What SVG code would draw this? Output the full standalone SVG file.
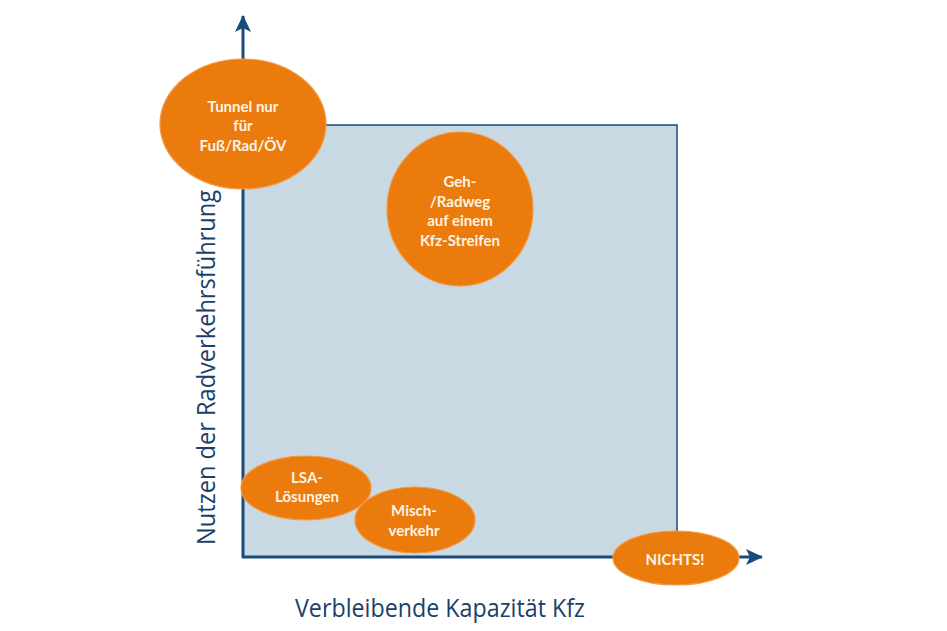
<svg xmlns="http://www.w3.org/2000/svg" width="947" height="631" viewBox="0 0 947 631">
<style>
.axis{stroke:#1a4a7a;stroke-width:3;fill:none}
.ell{fill:#ea7b0c;stroke:#f39a45;stroke-width:1.2}
.lbl{font-family:Lato,"Open Sans","Liberation Sans",sans-serif;font-weight:bold;font-size:15px;fill:#fff4e6;text-anchor:middle}
.ax{font-family:"Open Sans","Liberation Sans",sans-serif;font-size:26px;fill:#1b3f6b}
</style>
<defs>
<marker id="arr" markerUnits="userSpaceOnUse" markerWidth="20" markerHeight="20" viewBox="0 0 20 20" refX="16" refY="10" orient="auto">
<path d="M0,2 L17,10 L0,18 L4,10 Z" fill="#1a4a7a"/>
</marker>
</defs>
<rect width="947" height="631" fill="#ffffff"/>
<g id="plane">
<rect x="243" y="125" width="434" height="432" fill="#c9d9e4" stroke="#1a4a7a" stroke-width="1.5"/>
</g>
<g id="connectors">
<line class="axis" x1="243" y1="558" x2="243" y2="16" marker-end="url(#arr)"/>
<line class="axis" x1="242" y1="557" x2="762" y2="557" marker-end="url(#arr)"/>
</g>
<g id="tunnel">
<ellipse class="ell" cx="243" cy="124" rx="83" ry="65"/>
<text class="lbl" x="243" y="112">Tunnel nur</text>
<text class="lbl" x="243" y="131">für</text>
<text class="lbl" x="243" y="151">Fuß/Rad/ÖV</text>
</g>
<g id="gehradweg">
<ellipse class="ell" cx="460" cy="209" rx="73" ry="77"/>
<text class="lbl" x="460" y="187">Geh-</text>
<text class="lbl" x="460" y="207">/Radweg</text>
<text class="lbl" x="460" y="226">auf einem</text>
<text class="lbl" x="460" y="246">Kfz-Streifen</text>
</g>
<g id="lsa">
<ellipse class="ell" cx="306" cy="488" rx="65" ry="32"/>
<text class="lbl" x="307" y="483">LSA-</text>
<text class="lbl" x="307" y="502">Lösungen</text>
</g>
<g id="mischverkehr">
<ellipse class="ell" cx="415" cy="520" rx="60" ry="33"/>
<text class="lbl" x="414" y="516">Misch-</text>
<text class="lbl" x="414" y="536">verkehr</text>
</g>
<g id="nichts">
<ellipse class="ell" cx="676" cy="558" rx="63" ry="27"/>
<text class="lbl" x="675" y="565">NICHTS!</text>
</g>
<g id="axis-labels">
<text class="ax" x="295" y="617" textLength="290" lengthAdjust="spacingAndGlyphs">Verbleibende Kapazität Kfz</text>
<text class="ax" transform="translate(215,545) rotate(-90)" x="0" y="0" textLength="355" lengthAdjust="spacingAndGlyphs">Nutzen der Radverkehrsführung</text>
</g>
</svg>
